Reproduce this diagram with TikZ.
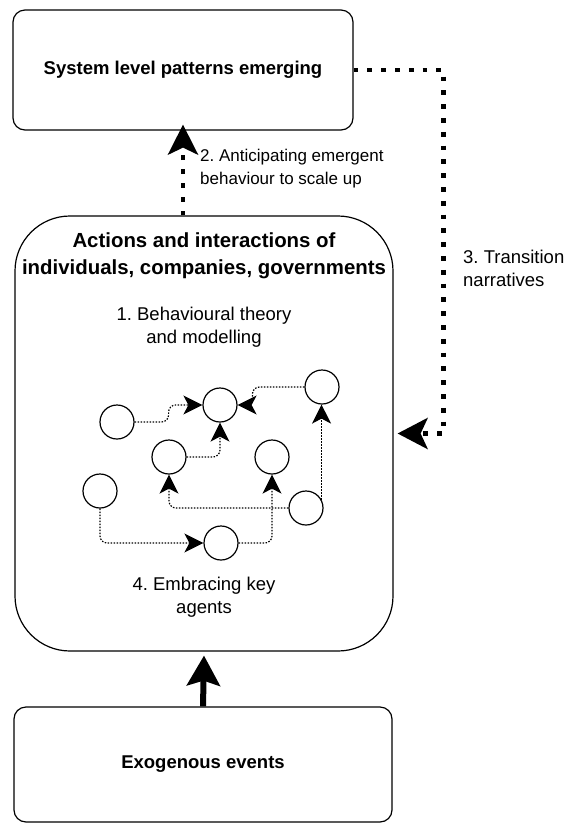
\documentclass[tikz,border=0pt]{standalone}
\usepackage{fontspec}
\setmainfont{Liberation Sans}
\usetikzlibrary{arrows.meta}
\frenchspacing

\tikzset{
  box/.style={draw, line width=1.2pt, rounded corners=12pt, align=center, font=\bfseries\fontsize{18.5}{23}\selectfont},
  agent/.style={circle, draw, line width=1.2pt, minimum size=34pt, inner sep=0pt},
  link/.style={line width=1.2pt, dash pattern=on 1.5pt off 1.5pt, rounded corners=7pt, -{Stealth[length=19pt,width=19pt,inset=5pt]}},
  bigdots/.style={line width=4.8pt, dash pattern=on 4.8pt off 9pt},
  lbl/.style={inner sep=0pt, align=left, font=\fontsize{18.5}{23}\selectfont},
  ctr/.style={inner sep=0pt, align=center, font=\fontsize{18.5}{23}\selectfont},
}

\begin{document}
\begin{tikzpicture}[x=1pt, y=-1pt]
    \useasboundingbox (0,0) rectangle (581,823);
    % the three levels
    \node [box, minimum width=340pt, minimum height=120pt] (system) at (183,70) {System level patterns emerging};
    \node [box, rounded corners=55pt, minimum width=378pt, minimum height=435pt] (actors) at (204,433.5) {};
    \node [box, minimum width=378pt, minimum height=115pt] (exo) at (203,764.5) {Exogenous events};
    \node [ctr, font=\bfseries\fontsize{20.4}{27}\selectfont] (title) at (204,256) {Actions and interactions of\\individuals, companies, governments};
    \node [ctr] (theory) at (204,327) {1. Behavioural theory\\and modelling};
    \node [ctr] (key) at (204,597) {4. Embracing key\\agents};

    % agents
    \node [agent] (c1) at (220,405) {};
    \node [agent] (c2) at (117,422) {};
    \node [agent] (c3) at (322,387) {};
    \node [agent] (c4) at (169,457) {};
    \node [agent] (c5) at (272,457) {};
    \node [agent] (c6) at (100,491) {};
    \node [agent] (c7) at (306,508) {};
    \node [agent] (c8) at (221,543) {};
    \draw [link] (c2.east) -- ++(34,0) |- (c1.west);
    \draw [link] (c3.west) -- ++(-52,0) |- (c1.east);
    \draw [link] (c4.east) -| (c1.south);
    \draw [link] (c7.west) -| (c4.south);
    \draw [link] (c7.28) -- (c7.28 |- c3.south);
    \draw [link] (c6.south) |- (c8.west);
    \draw [link] (c8.east) -| (c5.south);

    % feedbacks between levels
    \draw [bigdots, -{Stealth[length=30pt,width=30pt,inset=7pt]}] (actors.north -| system.south) -- ([yshift=6pt]system.south);
    \draw [bigdots, -{Stealth[length=30pt,width=31pt,inset=7pt]}] (system.east) -- ++(90,0) |- ([xshift=4pt]actors.east);
    \draw [line width=6pt, -{Stealth[length=30pt,width=33pt,inset=5pt]}] (exo.north) -- ([yshift=-4pt]actors.south);
    \node [lbl, anchor=west, font=\fontsize{17}{23}\selectfont] (anticip) at (200,169) {2. Anticipating emergent\\behaviour to scale up};
    \node [lbl, anchor=west] (narr) at (463,268) {3. Transition\\narratives};
\end{tikzpicture}
\end{document}
